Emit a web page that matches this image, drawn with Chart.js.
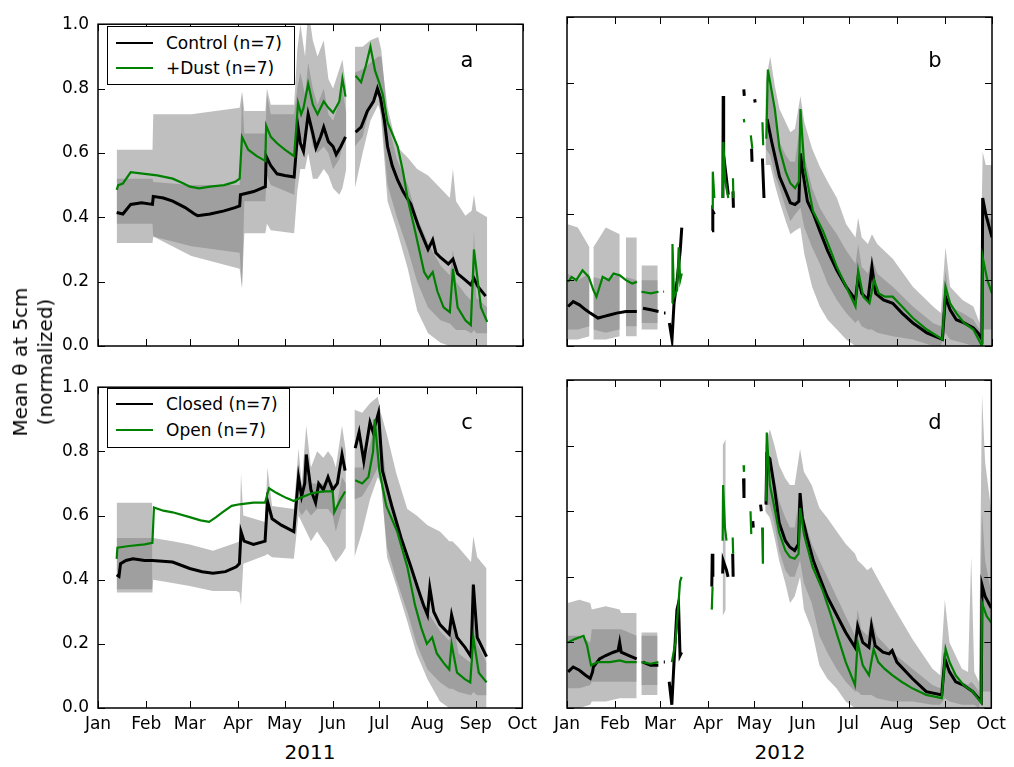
<!DOCTYPE html>
<html>
<head>
<meta charset="utf-8">
<script src="https://cdn.jsdelivr.net/npm/chart.js@4.4.1/dist/chart.umd.min.js"></script>
<style>
  body { margin: 0; background: #fff; font-family: "DejaVu Sans", sans-serif; }
  #wrap { position: relative; width: 1014px; height: 767px; background: #fff; overflow: hidden; }
  canvas { position: absolute; }
  .legend { position: absolute; border: 1px solid #000; background: #fff; font-size: 17px; }
  .legend .row { position: absolute; left: 0; height: 20px; line-height: 20px; white-space: nowrap; }
  .legend .sw { position: absolute; left: 8px; top: 9px; width: 37px; height: 2px; }
  .legend .tx { position: absolute; left: 58px; top: 0; }
  .letter { position: absolute; font-size: 21px; transform: translate(-50%, -50%); }
  .year { position: absolute; font-size: 20px; transform: translate(-50%, -50%); }
  #ylab { position: absolute; left: 33px; top: 362px; font-size: 20px; line-height: 25px; text-align: center;
          white-space: nowrap; transform: translate(-50%, -50%) rotate(-90deg); }
</style>
</head>
<body>
<div id="wrap">
  <canvas id="ca" width="505" height="371" style="left:38px;top:5px"></canvas>
  <canvas id="cb" width="505" height="371" style="left:507px;top:5px"></canvas>
  <canvas id="cc" width="505" height="370" style="left:38px;top:368px"></canvas>
  <canvas id="cd" width="505" height="370" style="left:507px;top:368px"></canvas>

  <div class="legend" style="left:107px;top:26px;width:186px;height:57px">
    <div class="row" style="top:6px"><div class="sw" style="background:#000"></div><div class="tx">Control (n=7)</div></div>
    <div class="row" style="top:31px"><div class="sw" style="background:#008000"></div><div class="tx">+Dust (n=7)</div></div>
  </div>
  <div class="legend" style="left:107px;top:388px;width:181px;height:58px">
    <div class="row" style="top:5px"><div class="sw" style="background:#000"></div><div class="tx">Closed (n=7)</div></div>
    <div class="row" style="top:31px"><div class="sw" style="background:#008000"></div><div class="tx">Open (n=7)</div></div>
  </div>

  <div class="letter" style="left:467px;top:60px">a</div>
  <div class="letter" style="left:935px;top:60px">b</div>
  <div class="letter" style="left:467px;top:422px">c</div>
  <div class="letter" style="left:935px;top:422px">d</div>

  <div class="year" style="left:310px;top:752px">2011</div>
  <div class="year" style="left:780px;top:752px">2012</div>
  <div id="ylab">Mean θ at 5cm<br>(normalized)</div>
</div>

<script>
// month ticks (day of year) and labels
const monthLabels = ["Jan", "Feb", "Mar", "Apr", "May", "Jun", "Jul", "Aug", "Sep", "Oct"];
const monthDays2011 = [0, 31, 59, 90, 120, 151, 181, 212, 243, 273];
const monthDays2012 = [0, 31, 60, 91, 121, 152, 182, 213, 244, 274];
const yTicks = [0, 0.2, 0.4, 0.6, 0.8, 1.0];

// ---- panel a (2011, control vs dust) ----  [day, value]
const aControl = [[12,0.415],[16,0.41],[21,0.44],[28,0.445],[35,0.44],[35.5,0.465],[42,0.46],[48,0.45],[56,0.43],[62,0.41],[64,0.405],[72,0.41],[81,0.42],[88,0.43],[91,0.435],[91.5,0.47],[100,0.48],[107.5,0.495],[108,0.59],[111,0.56],[115,0.535],[120,0.53],[126,0.525],[128.5,0.68],[130,0.63],[132,0.605],[135,0.72],[138,0.66],[140,0.615],[143,0.65],[145,0.68],[148,0.635],[151,0.62],[153,0.595],[156,0.62],[159,0.65],[162,null],[165.5,0.665],[169,0.68],[173,0.73],[177,0.76],[179.5,0.80],[181.5,0.77],[184,0.70],[186,0.62],[189,0.56],[192.5,0.515],[196,0.48],[201,0.44],[206,0.37],[212,0.30],[215,0.33],[217,0.29],[220,0.275],[225,0.255],[228,0.27],[231,0.225],[236,0.205],[239.5,0.19],[241.5,0.21],[244,0.185],[249,0.155]];
const aDust = [[12,0.485],[13,0.50],[16,0.505],[21,0.54],[30,0.535],[38,0.53],[48,0.52],[55,0.505],[59,0.495],[65,0.49],[72,0.495],[81,0.50],[88,0.51],[91,0.52],[92.5,0.65],[96.5,0.61],[102,0.59],[107.5,0.575],[108,0.685],[111,0.65],[115,0.63],[120,0.61],[126,0.59],[128.5,0.755],[130.5,0.72],[132,0.74],[135,0.815],[138,0.75],[141,0.72],[145,0.76],[148,0.74],[151,0.725],[155,0.76],[157,0.83],[159,0.775],[162,null],[165.5,0.84],[169,0.82],[172,0.87],[175,0.93],[178,0.855],[180.5,0.82],[183,0.78],[186,0.695],[192.5,0.62],[196,0.54],[199,0.455],[204,0.35],[209.5,0.23],[212,0.21],[215,0.23],[218,0.17],[222,0.12],[226,0.105],[228,0.24],[231,0.12],[236,0.08],[239.5,0.065],[241.5,0.30],[246,0.12],[250,0.075]];
const aBandDays = [12,35,35.5,60,91,92.5,94,107.5,108.5,111,126,128,130,133,135,138,141,145,148,151,155,157,159.5,162,165,170,175,180,182,186,192,199,205,212,220,226,228,230,236,240,241.5,243,250];
const aControlHi = [0.52,0.52,0.51,0.50,0.50,0.79,0.66,0.66,0.78,0.72,0.72,0.80,0.85,0.78,0.88,0.80,0.75,0.80,0.72,0.70,0.76,0.80,0.72,null,0.85,0.86,0.88,0.90,0.90,0.74,0.62,0.585,0.55,0.53,0.49,0.46,0.55,0.45,0.405,0.42,0.47,0.42,0.40];
const aControlLo = [0.38,0.38,0.34,0.31,0.29,0.18,0.35,0.35,0.38,0.36,0.35,0.48,0.55,0.55,0.60,0.52,0.52,0.55,0.53,0.49,0.47,0.49,0.55,null,0.49,0.60,0.70,0.75,0.72,0.50,0.40,0.30,0.20,0.12,0.08,0.07,0.06,0.05,0.05,0.04,0.05,0.04,0.04];
const aDustHi = [0.61,0.61,0.72,0.72,0.74,0.79,0.73,0.73,0.80,0.75,0.75,0.92,1.0,0.90,1.05,0.95,0.90,0.95,0.83,0.80,0.86,0.89,0.80,null,0.93,0.93,0.95,0.96,0.92,0.70,0.58,0.50,0.40,0.32,0.25,0.22,0.30,0.20,0.16,0.14,0.36,0.15,0.12];
const aDustLo = [0.32,0.32,0.34,0.28,0.24,0.18,0.45,0.45,0.53,0.50,0.47,0.60,0.65,0.62,0.70,0.62,0.60,0.62,0.60,0.55,0.58,0.62,0.65,null,0.62,0.65,0.75,0.78,0.70,0.45,0.36,0.24,0.11,0.04,0.01,0,0,0,0,0,0,0,0];

// ---- panel b (2012, control vs dust) ----
const bControl = [[0.7,0.12],[4,0.135],[8,0.125],[12,0.11],[15,0.10],[20,0.085],[24,0.09],[28,0.095],[32,0.10],[38,0.105],[45,0.105],[46,null],[49,0.115],[54,0.11],[59,0.105],[60,null],[62.5,0.10],[63.5,0.10],[64,null],[66,0.07],[67.7,0.02],[69,0.13],[71,0.20],[73,0.29],[74,0.36],[74.5,null],[93.5,0.35],[94,0.41],[95,0.40],[95.5,null],[100.5,0.45],[100.7,0.76],[101,0.58],[104,0.46],[105,null],[107,0.47],[107.3,0.42],[107.6,null],[114,0.78],[114.3,0.76],[114.6,null],[119,0.60],[119.3,0.56],[119.6,null],[121,0.75],[121.3,0.74],[121.6,null],[126,0.57],[127,0.45],[127.5,null],[129,0.69],[132,0.62],[137,0.515],[141,0.47],[144,0.435],[147,0.43],[149.5,0.44],[150.5,0.585],[152,0.53],[155,0.44],[159,0.40],[163,0.35],[168,0.29],[174,0.23],[180,0.18],[186,0.14],[187.7,0.21],[190,0.16],[194,0.14],[196.6,0.24],[199,0.16],[204,0.14],[210,0.13],[216,0.10],[223,0.07],[232,0.04],[242,0.02],[244,0.15],[247,0.11],[251,0.08],[256,0.07],[262,0.055],[265,0.04],[267.5,0.02],[268,0.45],[270,0.40],[274,0.33]];
const bDust = [[0.7,0.195],[3,0.21],[6,0.20],[10,0.23],[14,0.21],[17,0.17],[19,0.15],[21,0.18],[23,0.21],[27,0.20],[30,0.22],[34,0.215],[38,0.20],[42,0.19],[45,0.195],[46,null],[48,0.165],[54,0.16],[59,0.165],[60,null],[62,0.165],[62.6,0.165],[63,null],[67.7,0.13],[68,0.31],[69,0.15],[71,0.17],[72,0.30],[73,0.20],[74,0.22],[74.5,null],[93.5,0.42],[94,0.53],[95,0.45],[95.5,null],[100.5,0.45],[100.8,0.62],[102,0.50],[104,0.45],[105,null],[107,0.51],[107.3,0.45],[107.6,null],[114,0.69],[114.3,0.68],[114.6,null],[118.5,0.64],[119.5,0.60],[120,null],[126,0.68],[126.5,0.61],[127,null],[128.5,0.63],[129.5,0.84],[131,0.80],[134,0.72],[137,0.60],[141,0.53],[144,0.495],[147,0.48],[149.5,0.50],[150.5,0.72],[153,0.545],[158.6,0.41],[165,0.35],[170,0.29],[174,0.24],[180,0.18],[186,0.12],[187.7,0.23],[191,0.15],[195,0.13],[198,0.20],[201,0.16],[205,0.15],[210,0.15],[216,0.12],[223,0.085],[232,0.05],[242,0.02],[244,0.18],[247,0.13],[251,0.10],[256,0.07],[262,0.05],[267.5,0.0],[268,0.27],[271,0.20],[274,0.16]];
const bBandDays = [0.5,7,14.5,15.5,17,25,34,35,38,45,46,48,58.5,60,128,131,134,137,141,144,147,150.5,153,158,163,168,174,180,186,187.7,190,194,196.6,200,210,223,236,241,244,247,255,262,266,268,270,274];
const bControlHi = [0.22,0.20,0.22,null,0.21,0.20,0.22,null,0.21,0.20,null,0.20,0.20,null,0.80,0.88,0.79,0.72,0.68,0.65,0.66,0.76,0.68,0.60,0.545,0.50,0.45,0.37,0.33,0.39,0.33,0.31,0.34,0.31,0.265,0.18,0.12,0.10,0.30,0.18,0.14,0.12,0.07,0.59,0.55,0.55];
const bControlLo = [0.02,0.02,0.03,null,0.02,0.02,0.03,null,0.03,0.03,null,0.05,0.05,null,0.60,0.58,0.52,0.48,0.42,0.38,0.40,0.42,0.36,0.30,0.25,0.19,0.14,0.10,0.07,0.08,0.06,0.05,0.05,0.04,0.03,0.02,0,0,0.04,0.02,0.01,0,0,0.05,0.05,0.05];
const bDustHi = [0.37,0.36,0.30,null,0.30,0.36,0.34,null,0.33,0.33,null,0.245,0.245,null,0.75,0.80,0.72,0.62,0.58,0.56,0.56,0.68,0.58,0.48,0.42,0.38,0.34,0.29,0.25,0.31,0.24,0.22,0.27,0.22,0.18,0.12,0.07,0.06,0.23,0.12,0.10,0.08,0.05,0.45,0.40,0.38];
const bDustLo = [0.05,0.05,0.06,null,0.05,0.04,0.05,null,0.06,0.06,null,0.07,0.07,null,0.55,0.55,0.49,0.44,0.38,0.34,0.35,0.36,0.28,0.18,0.12,0.08,0.05,0.02,0,0,0,0,0,0,0,0,0,0,0,0,0,0,0,0,0,0];

// ---- panel c (2011, closed vs open) ----
const cClosed = [[12,0.415],[13.5,0.41],[14.5,0.45],[18,0.46],[22.5,0.465],[30,0.46],[35,0.46],[48,0.455],[59,0.435],[67,0.425],[74,0.42],[82,0.425],[89,0.44],[91,0.45],[92,0.55],[94,0.52],[100,0.51],[107.5,0.52],[109,0.645],[112,0.59],[118,0.57],[126,0.55],[129,0.72],[131,0.66],[133,0.70],[134,0.79],[137,0.68],[140,0.64],[142,0.70],[145,0.68],[148,0.72],[151,0.68],[154,0.70],[157,0.79],[159,0.74],[162,null],[165.5,0.81],[168,0.86],[171,0.77],[175,0.89],[177,0.86],[180.5,0.92],[183,0.74],[189,0.63],[195,0.53],[201,0.445],[206,0.37],[209.5,0.32],[212,0.29],[213.5,0.375],[216,0.30],[220,0.26],[226,0.23],[227.5,0.29],[231,0.22],[236,0.19],[240,0.16],[241.5,0.385],[244,0.22],[250,0.16]];
const cOpen = [[12,0.465],[12.5,0.50],[20,0.505],[30,0.51],[35,0.515],[36,0.625],[42,0.615],[48,0.61],[59,0.595],[66,0.585],[71.5,0.58],[76,0.595],[80,0.61],[86,0.63],[91,0.635],[100,0.64],[107.5,0.64],[110,0.685],[115,0.67],[121,0.655],[126,0.645],[130,0.655],[138,0.67],[145,0.675],[151,0.675],[152,0.61],[156,0.65],[159,0.675],[162,null],[165.5,0.71],[170,0.70],[174,0.72],[177,0.80],[178,0.90],[181,0.74],[185.5,0.63],[192.5,0.55],[199,0.44],[204,0.32],[208,0.25],[211.6,0.20],[215,0.22],[218,0.17],[222.5,0.14],[226,0.12],[227.5,0.20],[231,0.11],[236,0.09],[239.5,0.08],[241.5,0.22],[245,0.11],[250,0.08]];
const cBandDays = [12,35,35.5,48,59,74,89,91,92,93.5,107.5,109,112,126,129,131,134,137,141,145,148,151,153,157,159.5,162,165,170,175,180,182,186,192,199,205,212,220,226,228,232,240,241.5,244,250];
const cClosedHi = [0.53,0.53,0.53,0.52,0.51,0.49,0.515,0.52,0.73,0.60,0.58,0.75,0.63,0.62,0.81,0.70,0.88,0.75,0.80,0.78,0.80,0.78,0.75,0.88,0.80,null,0.93,0.92,0.95,0.97,0.92,0.85,0.73,0.62,0.60,0.57,0.55,0.52,0.52,0.50,0.455,0.535,0.47,0.435];
const cClosedLo = [0.36,0.36,0.40,0.39,0.38,0.365,0.365,0.36,0.32,0.45,0.475,0.48,0.47,0.465,0.60,0.58,0.55,0.52,0.55,0.52,0.50,0.47,0.455,0.48,0.50,null,0.47,0.55,0.65,0.72,0.70,0.50,0.40,0.30,0.20,0.12,0.08,0.06,0.06,0.05,0.04,0.05,0.04,0.04];
const cOpenHi = [0.64,0.64,null,null,null,null,null,null,null,null,null,null,null,null,0.70,0.68,0.72,0.70,0.70,0.70,0.72,0.70,0.62,0.72,0.70,null,0.75,0.75,0.82,0.92,0.85,0.70,0.60,0.48,0.38,0.30,0.24,0.21,0.28,0.17,0.14,0.40,0.20,0.14];
const cOpenLo = [0.37,0.37,null,null,null,null,null,null,null,null,null,null,null,null,0.62,0.60,0.62,0.60,0.62,0.62,0.62,0.60,0.55,0.62,0.62,null,0.65,0.66,0.70,0.75,0.72,0.47,0.38,0.27,0.17,0.09,0.02,0,0,0,0,0,0,0];

// ---- panel d (2012, closed vs open) ----
const dClosed = [[0.7,0.11],[4,0.125],[8,0.115],[12,0.10],[15,0.09],[16.5,0.11],[17,0.125],[21,0.15],[25,0.16],[30,0.17],[33,0.175],[34,0.20],[35,0.17],[40,0.16],[45,0.15],[46,null],[49,0.14],[54,0.13],[59,0.13],[60,null],[62.5,0.14],[63.2,0.14],[63.5,null],[66,0.08],[67.7,0.01],[69,0.13],[71,0.30],[72,0.32],[73,0.16],[74,0.17],[74.5,null],[93.5,0.37],[93.8,0.47],[94.2,0.40],[94.5,null],[100.5,0.41],[100.8,0.45],[103,0.42],[104,0.40],[104.5,null],[107,0.47],[107.3,0.40],[107.6,null],[114,0.70],[114.3,0.64],[114.6,null],[120,0.57],[120.3,0.55],[120.6,null],[125,0.62],[125.5,0.60],[126,null],[128.5,0.62],[129,0.77],[131,0.76],[134,0.67],[137,0.565],[141,0.51],[144,0.49],[147,0.48],[149.5,0.50],[150.5,0.655],[152,0.58],[155,0.52],[159,0.45],[163,0.40],[168,0.34],[174,0.285],[180,0.23],[186,0.185],[187.7,0.25],[191,0.20],[195,0.185],[196.6,0.25],[199,0.19],[204,0.17],[208,0.165],[210,0.175],[213,0.14],[223,0.09],[232,0.05],[242,0.04],[244,0.15],[247,0.11],[251,0.08],[256,0.07],[262,0.05],[267.5,0.02],[268,0.375],[270,0.34],[274,0.305]];
const dOpen = [[0.7,0.20],[5,0.21],[10.7,0.22],[13,0.19],[15.5,0.13],[20,0.14],[27.7,0.14],[34,0.145],[38,0.14],[45,0.14],[46,null],[48,0.14],[54,0.135],[59,0.14],[60,null],[62,0.13],[62.6,0.13],[63,null],[67.7,0.14],[70,0.20],[72,0.32],[73,0.385],[74,0.40],[74.5,null],[93.5,0.30],[94,0.37],[94.5,null],[100.5,0.51],[100.8,0.68],[102,0.55],[103,0.51],[103.5,null],[107,0.52],[107.3,0.47],[107.6,null],[114,0.74],[114.3,0.72],[114.6,null],[118.5,0.60],[119,0.53],[119.3,null],[119.7,0.79],[120.1,0.79],[120.4,null],[126,0.55],[126.5,0.44],[127,null],[128.5,0.63],[129,0.84],[131,0.68],[134,0.61],[137,0.535],[141,0.48],[144,0.46],[147,0.455],[149.5,0.47],[150.5,0.61],[153,0.53],[158.6,0.43],[165,0.36],[170,0.29],[174,0.23],[180,0.14],[186,0.07],[187.7,0.20],[191,0.13],[195,0.10],[198,0.18],[201,0.14],[205,0.12],[210,0.10],[216,0.08],[223,0.06],[232,0.04],[242,0.03],[244.5,0.18],[247,0.14],[251,0.10],[256,0.07],[262,0.05],[267.5,0.015],[268,0.32],[271,0.28],[274,0.26]];
const dBandDays = [0.5,8,15,16,25,34,35,45,46,48,58.5,60,100.5,102.5,103,128,131,134,137,141,144,147,150.5,153,158,163,168,174,180,186,187.7,190,194,196.6,200,210,223,236,241,244,247,255,259,261,263,266,268,270,274];
const dClosedHi = [0.32,0.33,0.32,0.30,0.31,0.30,0.29,0.29,null,0.23,0.23,null,0.80,0.82,null,0.80,0.85,0.80,0.74,0.70,0.68,0.68,0.79,0.72,0.68,0.61,0.58,0.54,0.50,0.47,0.45,0.44,0.42,0.43,0.40,0.315,0.21,0.12,0.10,0.33,0.20,0.12,0.11,0.46,0.11,0.08,0.955,0.75,0.60];
const dClosedLo = [0,0,0.01,0.02,0.02,0.03,0.03,0.03,null,0.04,0.04,null,0.28,0.30,null,0.60,0.58,0.52,0.45,0.38,0.32,0.34,0.40,0.30,0.24,0.13,0.09,0.06,0.02,0,0,0,0,0,0,0,0,0,0,0,0,0,0,0,0,0,0,0,0];
const dOpenHi = [0.22,0.22,0.20,0.24,0.24,0.24,0.24,0.22,null,0.22,0.22,null,null,null,null,0.78,0.76,0.70,0.63,0.58,0.55,0.55,0.66,0.58,0.50,0.45,0.40,0.34,0.28,0.22,0.30,0.24,0.22,0.28,0.22,0.17,0.12,0.07,0.06,0.19,0.12,0.08,0.07,0.08,0.07,0.05,0.60,0.45,0.35];
const dOpenLo = [0.06,0.06,0.07,0.08,0.08,0.08,0.08,0.08,null,0.07,0.07,null,null,null,null,0.62,0.62,0.56,0.48,0.42,0.40,0.40,0.45,0.38,0.32,0.22,0.17,0.12,0.08,0.05,0.05,0.04,0.04,0.04,0.03,0.02,0.02,0.01,0.01,0.03,0.02,0.01,0.01,0.01,0.01,0,0.05,0.05,0.05];

Chart.defaults.font.family = "DejaVu Sans";
Chart.defaults.font.size = 17;
Chart.defaults.color = "#000";

const bandFill = "rgba(128,128,128,0.5)";

function pairsToPts(pairs) {
  return pairs.map(p => ({ x: p[0], y: p[1] }));
}
function bandPts(days, vals) {
  return days.map((d, i) => ({ x: d, y: vals[i] }));
}

// inward tick marks on all four sides + frame (matplotlib look)
const frameTicks = {
  id: "frameTicks",
  afterDraw(chart) {
    const { ctx, chartArea: a, scales } = chart;
    const x = scales.x, y = scales.y;
    ctx.save();
    ctx.strokeStyle = "#000";
    ctx.lineWidth = 1;
    ctx.beginPath();
    x.ticks.forEach(t => {
      const px = Math.round(x.getPixelForValue(t.value)) + 0.5;
      ctx.moveTo(px, a.bottom); ctx.lineTo(px, a.bottom - 7);
      ctx.moveTo(px, a.top); ctx.lineTo(px, a.top + 7);
    });
    y.ticks.forEach(t => {
      const py = Math.round(y.getPixelForValue(t.value)) + 0.5;
      ctx.moveTo(a.left, py); ctx.lineTo(a.left + 7, py);
      ctx.moveTo(a.right, py); ctx.lineTo(a.right - 7, py);
    });
    ctx.stroke();
    ctx.lineWidth = 1.5;
    ctx.strokeRect(a.left, a.top, a.right - a.left, a.bottom - a.top);
    ctx.restore();
  }
};

function makePanel(canvasId, p) {
  const lineBase = { fill: false, pointRadius: 0, tension: 0, spanGaps: false };
  const datasets = [
    { ...lineBase, data: pairsToPts(p.green), borderColor: "#008000", borderWidth: 2.2, order: 0 },
    { ...lineBase, data: pairsToPts(p.black), borderColor: "#000", borderWidth: 3, order: 1 },
    { ...lineBase, data: bandPts(p.days, p.blackHi), borderWidth: 0, borderColor: "rgba(0,0,0,0)", backgroundColor: bandFill, fill: "+1", order: 2 },
    { ...lineBase, data: bandPts(p.days, p.blackLo), borderWidth: 0, borderColor: "rgba(0,0,0,0)", order: 2 },
    { ...lineBase, data: bandPts(p.days, p.greenHi), borderWidth: 0, borderColor: "rgba(0,0,0,0)", backgroundColor: bandFill, fill: "+1", order: 3 },
    { ...lineBase, data: bandPts(p.days, p.greenLo), borderWidth: 0, borderColor: "rgba(0,0,0,0)", order: 3 }
  ];
  return new Chart(document.getElementById(canvasId), {
    type: "line",
    data: { datasets },
    options: {
      responsive: false,
      animation: false,
      events: [],
      layout: { padding: { top: 12, right: 20, left: 0, bottom: 0 } },
      plugins: { legend: { display: false }, tooltip: { enabled: false } },
      scales: {
        x: {
          type: "linear",
          min: 0,
          max: p.monthDays[p.monthDays.length - 1],
          grid: { display: false, drawTicks: false },
          border: { display: false },
          afterBuildTicks: s => { s.ticks = p.monthDays.map(v => ({ value: v })); },
          afterFit: s => { s.height = 30; },
          ticks: {
            display: p.showX,
            autoSkip: false,
            maxRotation: 0,
            padding: 6,
            callback: (v, i) => monthLabels[i]
          }
        },
        y: {
          min: 0,
          max: 1,
          grid: { display: false, drawTicks: false },
          border: { display: false },
          afterBuildTicks: s => { s.ticks = yTicks.map(v => ({ value: v })); },
          afterFit: s => { s.width = 60; },
          ticks: {
            display: p.showY,
            padding: 9,
            callback: v => v.toFixed(1)
          }
        }
      }
    },
    plugins: [frameTicks]
  });
}

makePanel("ca", { black: aControl, green: aDust, days: aBandDays, blackHi: aControlHi, blackLo: aControlLo,
  greenHi: aDustHi, greenLo: aDustLo, monthDays: monthDays2011, showX: false, showY: true });
makePanel("cb", { black: bControl, green: bDust, days: bBandDays, blackHi: bControlHi, blackLo: bControlLo,
  greenHi: bDustHi, greenLo: bDustLo, monthDays: monthDays2012, showX: false, showY: false });
makePanel("cc", { black: cClosed, green: cOpen, days: cBandDays, blackHi: cClosedHi, blackLo: cClosedLo,
  greenHi: cOpenHi, greenLo: cOpenLo, monthDays: monthDays2011, showX: true, showY: true });
makePanel("cd", { black: dClosed, green: dOpen, days: dBandDays, blackHi: dClosedHi, blackLo: dClosedLo,
  greenHi: dOpenHi, greenLo: dOpenLo, monthDays: monthDays2012, showX: true, showY: false });
</script>
</body>
</html>
